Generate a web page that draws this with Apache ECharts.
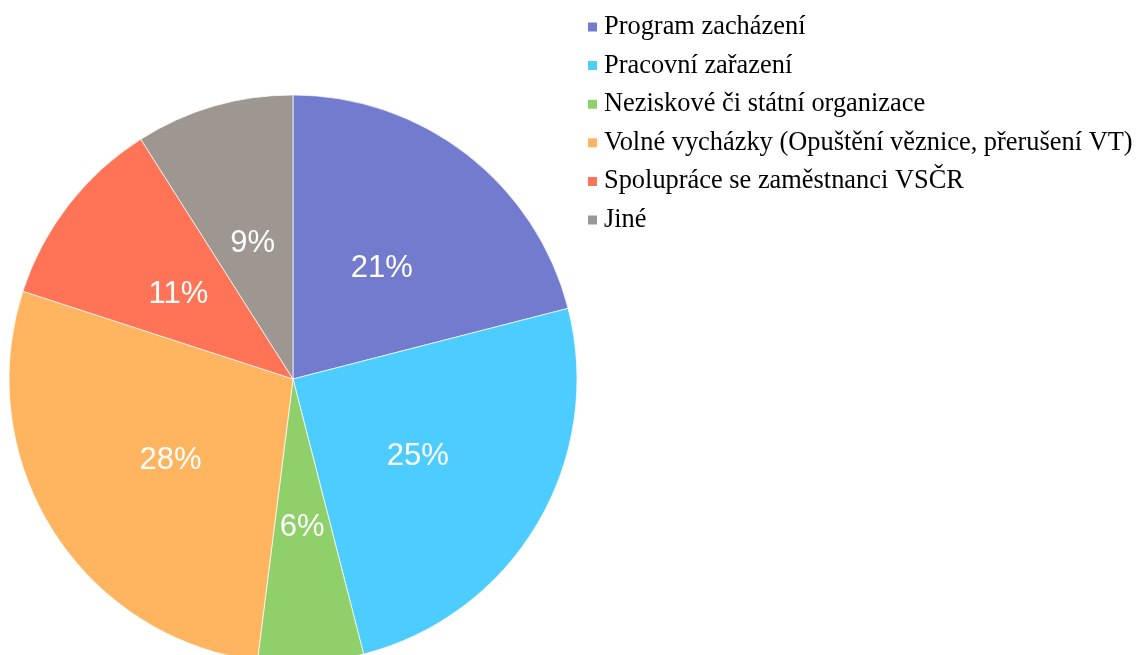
<!DOCTYPE html>
<html>
<head>
<meta charset="utf-8">
<script src="https://cdn.jsdelivr.net/npm/echarts@6/dist/echarts.min.js"></script>
<style>
  html, body { margin: 0; padding: 0; background: #fff; }
  #chart { width: 1147px; height: 655px; }
</style>
</head>
<body>
<div id="chart"></div>
<script>
// kategorie a hodnoty (%)
var categories = ['Program zacházení', 'Pracovní zařazení', 'Neziskové či státní organizace',
                  'Volné vycházky (Opuštění věznice, přerušení VT)', 'Spolupráce se zaměstnanci VSČR', 'Jiné'];
var values = [21, 25, 6, 28, 11, 9];
var colors = ['#727bcd', '#4dccff', '#8fd06a', '#ffb55f', '#ff7356', '#9d9691'];

var chart = echarts.init(document.getElementById('chart'));

var pieData = [];
for (var i = 0; i < categories.length; i++) {
    pieData.push({ name: categories[i], value: values[i] });
}

var option = {
    animation: false,
    color: colors,
    legend: {
        orient: 'vertical',
        left: 586,
        top: 13.5,
        padding: 0,
        icon: 'rect',
        itemWidth: 11,
        itemHeight: 11,
        itemGap: 11.6,
        textStyle: {
            fontFamily: 'Liberation Serif',
            fontSize: 26.4,
            lineHeight: 27,
            color: '#000',
            padding: [0, 0, 0, 1]
        },
        data: categories
    },
    series: [{
        type: 'pie',
        center: [293, 379],
        radius: 284,
        startAngle: 90,
        clockwise: true,
        itemStyle: { borderColor: '#fff', borderWidth: 0.7 },
        label: {
            show: true,
            position: 'inside',
            formatter: '{c}%',
            color: '#fff',
            fontFamily: 'Liberation Sans',
            fontSize: 31,
            offset: [0, 4]
        },
        labelLine: { show: false },
        emphasis: { disabled: true },
        data: pieData
    }]
};
chart.setOption(option);
</script>
</body>
</html>
